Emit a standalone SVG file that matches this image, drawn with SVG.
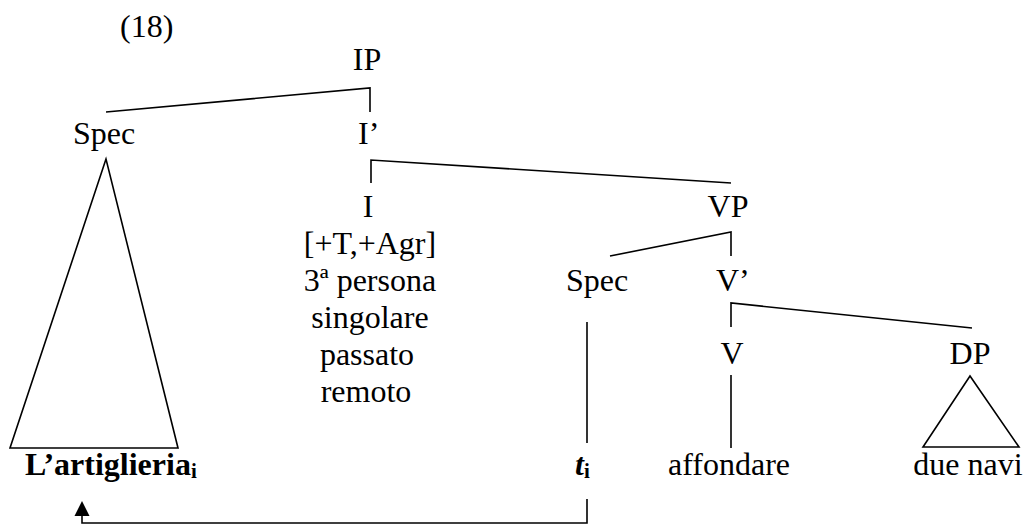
<svg xmlns="http://www.w3.org/2000/svg" width="1025" height="525" viewBox="0 0 1025 525">
<style>
text{font-family:"Liberation Serif",Tinos,"Times New Roman","DejaVu Serif",serif;font-size:32px;fill:#000}
.m{text-anchor:middle}
.b{font-weight:bold}
.sub{font-size:21px;font-weight:bold}
.ln{fill:none;stroke:#000;stroke-width:1.6}
</style>
<rect width="1025" height="525" fill="#fff"/>
<text x="120" y="37">(18)</text>
<g id="connectors">
<path class="ln" d="M106,112 L370,88 L370,112"/>
<path class="ln" d="M371,183 L371,160 L731,183"/>
<path class="ln" d="M610,256 L731,232 L731,256"/>
<path class="ln" d="M731,327 L731,303 L972,328"/>
<path class="ln" d="M731,375 L731,448"/>
<path class="ln" d="M587,322 L587,443"/>
<path class="ln" d="M587,499 L587,523 L82,523 L82,516"/>
<path d="M82,501 L74.5,516 L89.5,516 Z" fill="#000"/>
</g>
<g id="IP"><text class="m" x="367" y="70">IP</text></g>
<g id="Spec1"><text class="m" x="104" y="144">Spec</text>
<path class="ln" d="M106,159 L10,448 L178,448 Z"/></g>
<g id="Ibar"><text x="358" y="144">I’</text></g>
<g id="I">
<text class="m" x="368" y="217">I</text>
<text class="m" x="370" y="254">[+T,+Agr]</text>
<text class="m" x="370" y="291">3ª persona</text>
<text class="m" x="370" y="328">singolare</text>
<text class="m" x="367" y="365">passato</text>
<text class="m" x="366" y="402">remoto</text>
</g>
<g id="VP"><text class="m" x="728" y="217">VP</text></g>
<g id="Spec2"><text class="m" x="597" y="291">Spec</text></g>
<g id="Vbar"><text x="716" y="291">V’</text></g>
<g id="V"><text class="m" x="732" y="364">V</text></g>
<g id="DP"><text class="m" x="970" y="364">DP</text>
<path class="ln" d="M970,376 L923,447 L1019,447 Z"/></g>
<g id="artiglieria"><text class="b" x="25" y="475">L’artiglieria<tspan class="sub" dy="3">i</tspan></text></g>
<g id="trace"><text x="575" y="475" font-weight="bold" font-style="italic">t<tspan class="sub" font-style="normal" dy="3">i</tspan></text></g>
<g id="affondare"><text class="m" x="729" y="475">affondare</text></g>
<g id="duenavi"><text class="m" x="968" y="475">due navi</text></g>
</svg>
